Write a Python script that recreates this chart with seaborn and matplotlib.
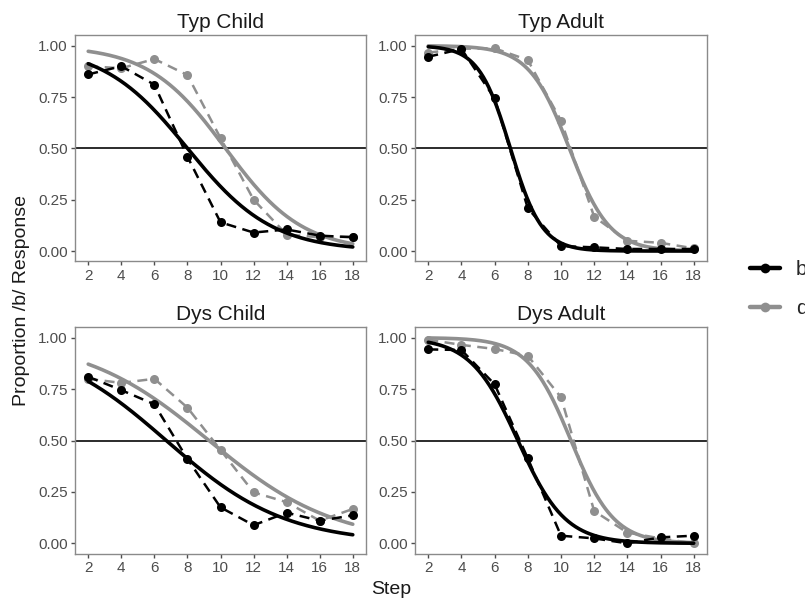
import numpy as np
import pandas as pd
import matplotlib
matplotlib.use("Agg")
import matplotlib.pyplot as plt
from matplotlib.lines import Line2D
import seaborn as sns

# ---------------- data ----------------
panels = ["Typ Child", "Typ Adult", "Dys Child", "Dys Adult"]
continua = ["b", "d"]
steps = [2, 4, 6, 8, 10, 12, 14, 16, 18]

# observed proportions (dashed lines with points)
typ_child_b = [0.86, 0.90, 0.81, 0.46, 0.14, 0.09, 0.105, 0.075, 0.067]
typ_child_d = [0.90, 0.89, 0.935, 0.857, 0.55, 0.25, 0.08, 0.067, 0.07]
typ_adult_b = [0.946, 0.984, 0.743, 0.208, 0.024, 0.018, 0.01, 0.01, 0.01]
typ_adult_d = [0.966, 0.985, 0.987, 0.93, 0.635, 0.167, 0.05, 0.04, 0.013]
dys_child_b = [0.81, 0.745, 0.676, 0.41, 0.175, 0.088, 0.149, 0.11, 0.136]
dys_child_d = [0.80, 0.78, 0.80, 0.66, 0.454, 0.248, 0.20, 0.11, 0.167]
dys_adult_b = [0.943, 0.94, 0.773, 0.413, 0.037, 0.024, 0.0, 0.029, 0.037]
dys_adult_d = [0.99, 0.965, 0.945, 0.912, 0.71, 0.157, 0.052, 0.024, 0.0]

# fitted logistic curves (solid lines): 50% crossover step and slope, per panel
fit_mid_b = [8.0, 6.95, 6.72, 7.4]
fit_slope_b = [0.39, 1.05, 0.278, 0.70]
fit_mid_d = [10.3, 10.5, 9.3, 10.6]
fit_slope_d = [0.43, 0.82, 0.262, 0.77]

observed = {
    ("Typ Child", "b"): typ_child_b, ("Typ Child", "d"): typ_child_d,
    ("Typ Adult", "b"): typ_adult_b, ("Typ Adult", "d"): typ_adult_d,
    ("Dys Child", "b"): dys_child_b, ("Dys Child", "d"): dys_child_d,
    ("Dys Adult", "b"): dys_adult_b, ("Dys Adult", "d"): dys_adult_d,
}
rows = []
for (panel, cont), vals in observed.items():
    for s, v in zip(steps, vals):
        rows.append({"panel": panel, "cont": cont, "step": s, "prop": v})
df = pd.DataFrame(rows)

fits = {}
for i, panel in enumerate(panels):
    fits[(panel, "b")] = (fit_mid_b[i], fit_slope_b[i])
    fits[(panel, "d")] = (fit_mid_d[i], fit_slope_d[i])
grid = np.linspace(min(steps), max(steps), 300)
fit_rows = []
for (panel, cont), (mid, k) in fits.items():
    p = 1.0 / (1.0 + np.exp(k * (grid - mid)))
    for x, y in zip(grid, p):
        fit_rows.append({"panel": panel, "cont": cont, "step": x, "prop": y})
fit_df = pd.DataFrame(fit_rows)

# ---------------- style ----------------
sns.set_theme(style="white")
plt.rcParams["font.family"] = ["Liberation Sans", "DejaVu Sans"]

colors = {"b": "#000000", "d": "#8F8F8F"}
W, H = 805, 598
fig = plt.figure(figsize=(W / 100, H / 100), dpi=100)

# panel boxes in pixels: left, top, right, bottom
boxes = {
    "Typ Child": (75, 35.4, 366, 261.3),
    "Typ Adult": (415, 35.4, 707, 261.3),
    "Dys Child": (75, 327.4, 366, 553.6),
    "Dys Adult": (415, 327.4, 707, 553.6),
}
border_col = "#8A8A8A"
tick_col = "#4D4D4D"

for panel in panels:
    l, t, r, b = boxes[panel]
    ax = fig.add_axes([l / W, 1 - b / H, (r - l) / W, (b - t) / H])
    ax.axhline(0.5, color="#1A1A1A", lw=1.3, zorder=1)
    for cont in continua:
        sub = df[(df.panel == panel) & (df.cont == cont)]
        sns.lineplot(data=sub, x="step", y="prop", ax=ax, color=colors[cont],
                     lw=1.8, linestyle=(0, (4, 2.6)), marker="o", markersize=6.5,
                     markeredgewidth=0, zorder=3 if cont == "b" else 2)
        fsub = fit_df[(fit_df.panel == panel) & (fit_df.cont == cont)]
        sns.lineplot(data=fsub, x="step", y="prop", ax=ax, color=colors[cont],
                     lw=2.6, zorder=3 if cont == "b" else 2)
    ax.set_xlim(1.2, 18.8)
    ax.set_ylim(-0.05, 1.05)
    ax.set_xticks(steps)
    ax.set_xticklabels([str(s) for s in steps])
    ax.set_yticks([0, 0.25, 0.5, 0.75, 1.0])
    ax.set_yticklabels(["0.00", "0.25", "0.50", "0.75", "1.00"])
    ax.tick_params(axis="both", which="major", length=3.2, width=1.0,
                   color=tick_col, labelcolor=tick_col, labelsize=11, pad=2,
                   left=True, bottom=True)
    ax.set_xlabel("")
    ax.set_ylabel("")
    for sp in ax.spines.values():
        sp.set_color(border_col)
        sp.set_linewidth(1.0)
    ax.grid(False)
    ax.set_title(panel, fontsize=15, color="#1A1A1A", pad=5)

fig.text(391 / W, 1 - 590 / H, "Step", ha="center", va="center", fontsize=14,
         color="#1A1A1A")
fig.text(22 / W, 1 - 300 / H, "Proportion /b/ Response", ha="center",
         va="center", rotation=90, fontsize=14, color="#1A1A1A")

handles = [Line2D([0], [0], color=colors[c], lw=3.2, marker="o", markersize=7,
                  markeredgewidth=0) for c in continua]
fig.legend(handles, continua, loc="center left",
           bbox_to_anchor=(750 / W, 1 - 289 / H), frameon=False, fontsize=15,
           handlelength=1.45, handletextpad=0.75, labelspacing=0.95,
           borderpad=0, borderaxespad=0)

fig.savefig("out.png", dpi=100)
